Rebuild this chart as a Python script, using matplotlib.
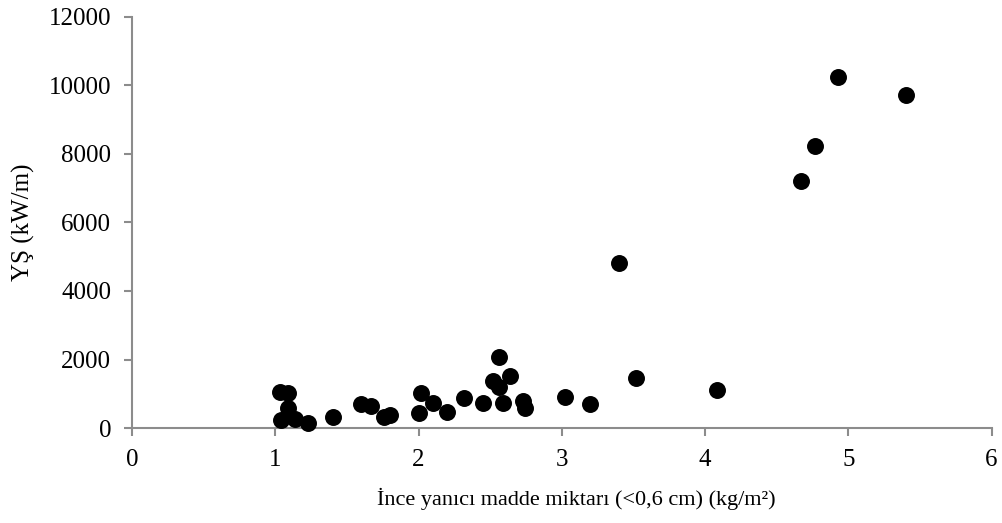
import matplotlib
matplotlib.use("Agg")
import matplotlib.pyplot as plt

plt.rcParams['font.family'] = ['Liberation Serif', 'DejaVu Serif']

# Fine fuel load (kg/m2) and fireline intensity (kW/m)
fuel_load = [1.03, 1.09, 1.09, 1.04, 1.14, 1.23, 1.40, 1.60, 1.67, 1.76, 1.80,
             2.00, 2.02, 2.10, 2.20, 2.32, 2.45, 2.52, 2.56, 2.56, 2.64, 2.59,
             2.73, 2.74, 3.02, 3.20, 3.40, 3.52, 4.08, 4.67, 4.77, 4.93, 5.40]
intensity = [1060, 1030, 575, 235, 255, 155, 310, 700, 645, 310, 380,
             450, 1030, 720, 460, 870, 720, 1360, 1200, 2060, 1530, 740,
             790, 580, 900, 700, 4830, 1460, 1100, 7200, 8220, 10240, 9720]

x_ticks = [0, 1, 2, 3, 4, 5, 6]
y_ticks = [0, 2000, 4000, 6000, 8000, 10000, 12000]

fig = plt.figure(figsize=(10.03, 5.23), dpi=100)
ax = fig.add_axes([0.1316, 0.1816, 0.857, 0.786])

ax.scatter(fuel_load, intensity, s=125, color='black', zorder=3, clip_on=False)

ax.set_xlim(0, 6)
ax.set_ylim(0, 12000)
ax.set_xticks(x_ticks)
ax.set_yticks(y_ticks)

for side in ('top', 'right'):
    ax.spines[side].set_visible(False)
for side in ('left', 'bottom'):
    ax.spines[side].set_color('#8c8c8c')
    ax.spines[side].set_linewidth(1.5)

ax.tick_params(axis='both', direction='out', length=6, width=1.5,
               color='#8c8c8c', labelsize=18, labelcolor='black')
ax.tick_params(axis='x', pad=9)
ax.tick_params(axis='y', pad=9)

ax.set_xlabel('İnce yanıcı madde miktarı (<0,6 cm) (kg/m²)', fontsize=16)
ax.set_ylabel('YŞ (kW/m)', fontsize=18)
ax.xaxis.set_label_coords(0.5165, -0.145)
ax.yaxis.set_label_coords(-0.113, 0.5)

fig.savefig('out.png', dpi=100, facecolor='white')
